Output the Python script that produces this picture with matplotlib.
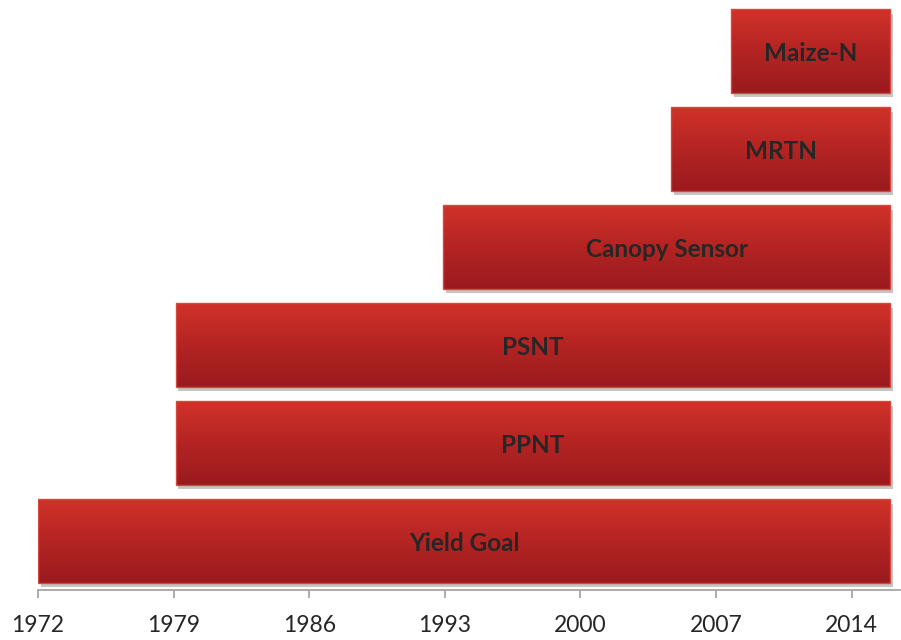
import numpy as np
import matplotlib
matplotlib.use('Agg')
import matplotlib.pyplot as plt
import matplotlib.patheffects as pe
from matplotlib.patches import Rectangle
from matplotlib.colors import LinearSegmentedColormap

# N recommendation methods and the years they were in use
methods = ['Yield Goal', 'PPNT', 'PSNT', 'Canopy Sensor', 'MRTN', 'Maize-N']
start_year = [1972, 1979.1, 1979.1, 1992.9, 2004.7, 2007.8]
end_year = [2016, 2016, 2016, 2016, 2016, 2016]
year_ticks = [1972, 1979, 1986, 1993, 2000, 2007, 2014]

plt.rcParams['font.family'] = ['Lato', 'DejaVu Sans']

fig, ax = plt.subplots(figsize=(9.01, 6.4), dpi=100)
fig.subplots_adjust(left=38/901, right=900/901, bottom=1-590/640, top=1-2/640)

red_grad = LinearSegmentedColormap.from_list('redgrad', ['#9A1A1E', '#B42423', '#D13229'])
grad = np.linspace(0, 1, 256).reshape(-1, 1)
h = 0.85

for i, (name, s, e) in enumerate(zip(methods, start_year, end_year)):
    # base bar with drop shadow
    base = Rectangle((s, i - h/2), e - s, h, facecolor='#B42423', edgecolor='none', zorder=2)
    base.set_path_effects([pe.SimplePatchShadow(offset=(2, -3), shadow_rgbFace='#7f7f7f', alpha=0.45),
                           pe.Normal()])
    ax.add_patch(base)
    # vertical gradient fill
    im = ax.imshow(grad, cmap=red_grad, origin='lower', aspect='auto',
                   extent=(s, e, i - h/2, i + h/2), zorder=3, interpolation='bicubic')
    im.set_clip_path(base)
    ax.add_patch(Rectangle((s, i - h/2), e - s, h, facecolor='none',
                           edgecolor='#D8473F', lw=1.0, zorder=4))
    ax.text((s + e) / 2, i - 0.03, name, ha='center', va='center', fontsize=17.5,
            fontweight='bold', color='#262626', zorder=5)

ax.set_xlim(1972, 2016.5)
ax.set_ylim(-0.5, 5.5)
ax.set_xticks(year_ticks)
ax.set_yticks([])
for side in ['left', 'top', 'right']:
    ax.spines[side].set_visible(False)
ax.spines['bottom'].set_color('#A6A6A6')
ax.spines['bottom'].set_linewidth(1.3)
ax.tick_params(axis='x', direction='out', length=6, width=1.3, color='#A6A6A6',
               labelsize=16.5, labelcolor='#262626', pad=12)

plt.savefig('out.png', dpi=100)
